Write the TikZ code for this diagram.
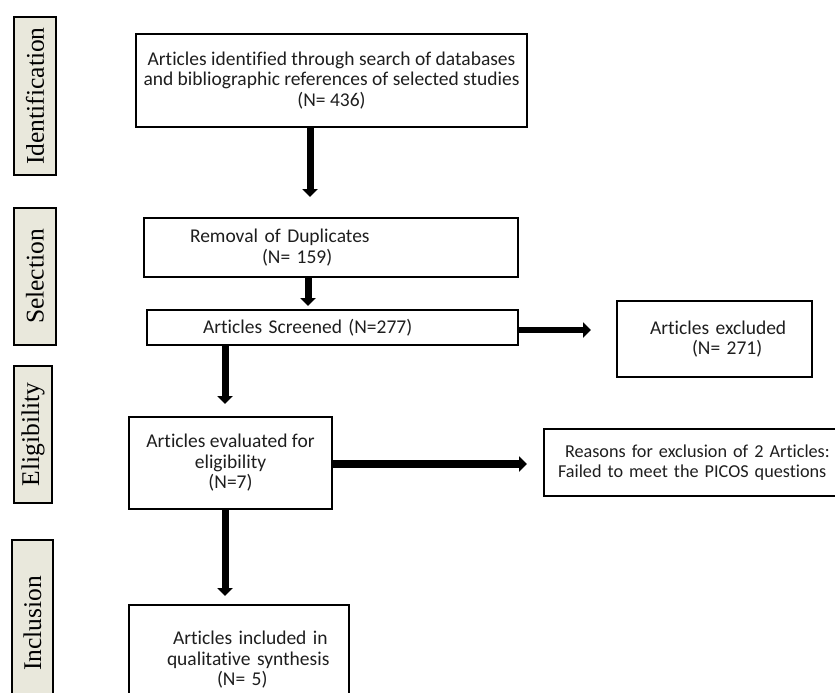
\documentclass[tikz,border=0pt]{standalone}
\usepackage{fontspec}
\setmainfont[Ligatures=CommonOff]{Carlito}
\newfontfamily\stagefont{Liberation Serif}
\usetikzlibrary{arrows.meta,calc}
\definecolor{stagefill}{HTML}{E9E8DC}
\definecolor{inktext}{HTML}{1E1E1E}
\newcommand\boxfont{\fontsize{19.5}{20.5}\selectfont}

\begin{document}
\begin{tikzpicture}[x=1pt, y=-1pt, box/.style={draw, line width=2pt, inner sep=0pt, align=center, font=\boxfont, text=inktext}, lbox/.style={box, align=left, text width=#1}, stage/.style={draw, line width=2.5pt, fill=stagefill, inner sep=0pt, rotate=90, font=\stagefont\fontsize{25.5}{25.5}\selectfont}, flow/.style={line width=7pt, -{Triangle[length=8pt,width=15pt]}}]
\useasboundingbox (0,0) rectangle (835,693);
\clip (0,0) rectangle (835,693);
% stages on the left
\node[stage, minimum width=158pt, minimum height=42pt] (sIdent) at (35,96) {Identification};
\node[stage, minimum width=137pt, minimum height=42pt] (sSel) at (35,276.5) {Selection};
\node[stage, minimum width=137pt, minimum height=38pt] (sElig) at (33,434.5) {Eligibility};
\node[stage, minimum width=167pt, minimum height=41pt] (sIncl) at (32.5,623.5) {Inclusion};
% boxes
\node[box, minimum width=391pt, minimum height=93pt] (ident) at (331.5,80.5) {Articles identified through search of databases\\and bibliographic references of selected studies\\(N= 436)};
\node[lbox=374pt, minimum height=59pt] (dup) at (331,247.5) {\hspace*{46pt}Removal of Duplicates\\\hspace*{118pt}(N= 159)};
\node[lbox=371pt, minimum height=35pt] (screen) at (332.5,327.5) {\hspace*{56pt}Articles Screened (N=277)};
\node[lbox=195pt, minimum height=76pt] (excl) at (714.5,339) {\hspace*{33pt}Articles excluded\\\hspace*{75pt}(N= 271)};
\node[box, minimum width=203pt, minimum height=92pt] (elig) at (230.5,463) {Articles evaluated for\\eligibility\\(N=7)};
\node[lbox=320pt, minimum height=67pt, font=\fontsize{18.2}{20.5}\selectfont] (reason) at (704,462.5) {\hspace*{21pt}Reasons for exclusion of 2 Articles:\\\hspace*{14pt}Failed to meet the PICOS questions};
\node[lbox=220pt, minimum height=110pt] (incl) at (239,660) {\hspace*{44pt}Articles included in\\\hspace*{38pt}qualitative synthesis\\\hspace*{88pt}(N= 5)};
% arrows
\draw[flow, shorten >=20pt] ([xshift=-21.5pt]ident.south) -- ([xshift=-21pt]dup.north);
\draw[flow, shorten >=3pt] ([xshift=-23pt]dup.south) -- ([xshift=-24.5pt]screen.north);
\draw[flow, shorten >=12pt] ([xshift=-107.5pt]screen.south) -- ([xshift=-5.5pt]elig.north);
\draw[flow, shorten >=8pt] ([xshift=-5.5pt]elig.south) -- ([xshift=-14pt]incl.north);
\draw[flow, line width=6pt, shorten >=25pt] ([yshift=-2.5pt]screen.east) -- ([yshift=-2.5pt]screen.east -| excl.west);
\draw[flow, line width=8pt, shorten >=16pt] ([yshift=-1pt]elig.east) -- ([yshift=-1pt]elig.east -| reason.west);
\end{tikzpicture}
\end{document}
